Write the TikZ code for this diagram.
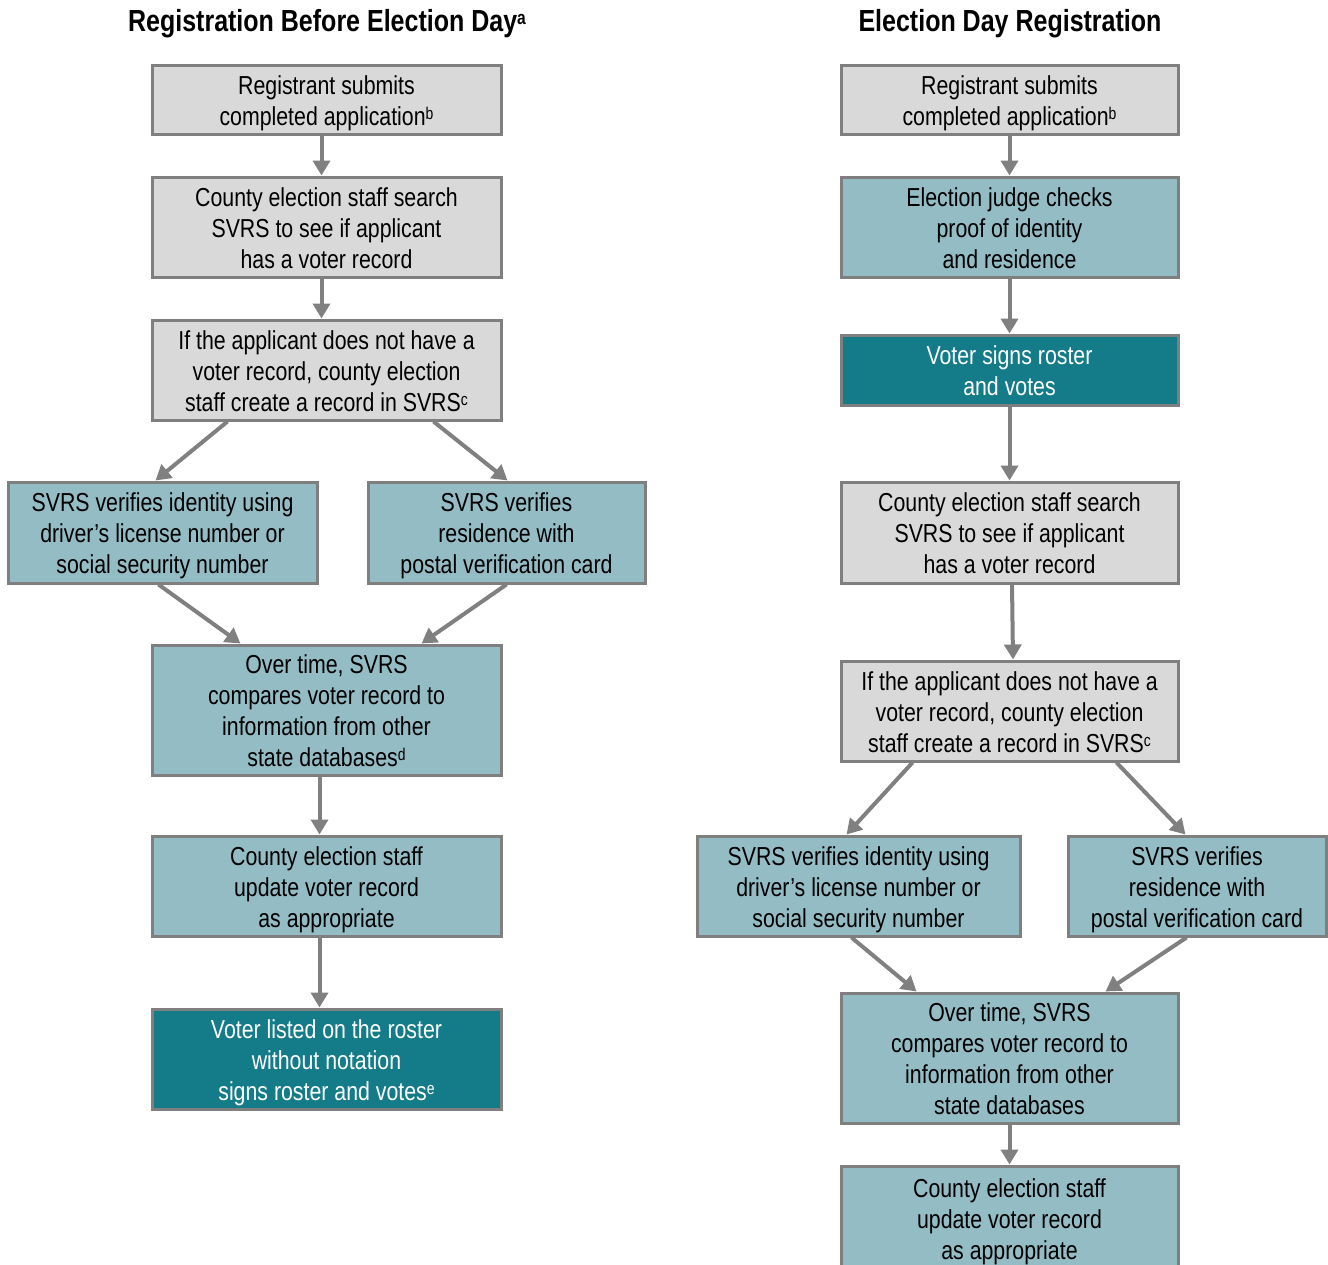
\documentclass[tikz,border=0pt]{standalone}
\usepackage{fontspec}
\setmainfont[FakeStretch=0.82]{Liberation Sans}
\usetikzlibrary{arrows.meta}
\definecolor{boxgray}{HTML}{D9D9D9}
\definecolor{bordergray}{HTML}{7F7F7F}
\definecolor{lightteal}{HTML}{93BCC4}
\definecolor{darkteal}{HTML}{147B88}
\definecolor{arrowgray}{HTML}{808080}
\newcommand{\bt}[1]{\raisebox{-4pt}[\height][\depth]{\begin{tabular}{@{}c@{}}#1\end{tabular}}}
\newcommand{\fnm}[1]{\raisebox{6pt}{\fontsize{17}{17}\selectfont #1}}
\begin{document}
\begin{tikzpicture}[x=1pt,y=-1pt,
  box/.style={draw=bordergray, line width=3pt, align=center, inner sep=0pt,
    font=\fontsize{26}{31}\selectfont},
  graybox/.style={box, fill=boxgray, text=black},
  lightbox/.style={box, fill=lightteal, text=black},
  darkbox/.style={box, fill=darkteal, text=white},
  titlenode/.style={font=\fontsize{30.5}{35}\selectfont\bfseries, inner sep=0pt},
  arr/.style={draw=arrowgray, line width=4pt, -{Triangle[length=15pt,width=17pt]}}]
\useasboundingbox (0,0) rectangle (1328,1264);
\clip (0,0) rectangle (1328,1264);
% titles
\node[titlenode] (T1) at (327,24) {Registration Before Election Day\raisebox{7pt}{\fontsize{19}{19}\selectfont a}};
\node[titlenode] (T2) at (1010,24) {Election Day Registration};
% left column
\node[graybox, minimum width=349pt, minimum height=69pt] (L1) at (326.5,99.5)
  {\bt{Registrant submits\\completed application\fnm{b}}};
\node[graybox, minimum width=349pt, minimum height=100pt] (L2) at (326.5,227)
  {\bt{County election staff search\\SVRS to see if applicant\\has a voter record}};
\node[graybox, minimum width=349pt, minimum height=100pt] (L3) at (326.5,370)
  {\bt{If the applicant does not have a\\voter record, county election\\staff create a record in SVRS\fnm{c}}};
\node[lightbox, minimum width=309pt, minimum height=101pt] (L4a) at (162.5,532.5)
  {\bt{SVRS verifies identity using\\driver’s license number or\\social security number}};
\node[lightbox, minimum width=277pt, minimum height=101pt] (L4b) at (506.5,532.5)
  {\bt{SVRS verifies\\residence with\\postal verification card}};
\node[lightbox, minimum width=349pt, minimum height=130pt] (L5) at (326.5,710)
  {\bt{Over time, SVRS\\compares voter record to\\information from other\\state databases\fnm{d}}};
\node[lightbox, minimum width=349pt, minimum height=100pt] (L6) at (326.5,886)
  {\bt{County election staff\\update voter record\\as appropriate}};
\node[darkbox, minimum width=349pt, minimum height=100pt] (L7) at (326.5,1059)
  {\bt{Voter listed on the roster\\without notation\\signs roster and votes\fnm{e}}};
% right column
\node[graybox, minimum width=337pt, minimum height=69pt] (R1) at (1009.5,99.5)
  {\bt{Registrant submits\\completed application\fnm{b}}};
\node[lightbox, minimum width=337pt, minimum height=100pt] (R2) at (1009.5,227)
  {\bt{Election judge checks\\proof of identity\\and residence}};
\node[darkbox, minimum width=337pt, minimum height=70pt] (R3) at (1009.5,370)
  {\bt{Voter signs roster\\and votes}};
\node[graybox, minimum width=337pt, minimum height=101pt] (R4) at (1009.5,532.5)
  {\bt{County election staff search\\SVRS to see if applicant\\has a voter record}};
\node[graybox, minimum width=337pt, minimum height=100pt] (R5) at (1009.5,711)
  {\bt{If the applicant does not have a\\voter record, county election\\staff create a record in SVRS\fnm{c}}};
\node[lightbox, minimum width=323pt, minimum height=100pt] (R6a) at (858.5,886)
  {\bt{SVRS verifies identity using\\driver’s license number or\\social security number}};
\node[lightbox, minimum width=258pt, minimum height=100pt] (R6b) at (1197,886)
  {\bt{SVRS verifies\\residence with\\postal verification card}};
\node[lightbox, minimum width=337pt, minimum height=130pt] (R7) at (1009.5,1058)
  {\bt{Over time, SVRS\\compares voter record to\\information from other\\state databases}};
\node[lightbox, minimum width=337pt, minimum height=104pt] (R8) at (1009.5,1218)
  {\bt{County election staff\\update voter record\\as appropriate}};
% left arrows
\draw[arr] ([xshift=171pt]L1.south west) -- ([xshift=171pt]L2.north west);
\draw[arr] ([xshift=171pt]L2.south west) -- ([xshift=171pt]L3.north west);
\draw[arr] ([xshift=77pt]L3.south west) -- ([xshift=149pt]L4a.north west);
\draw[arr] ([xshift=283pt]L3.south west) -- ([xshift=141pt]L4b.north west);
\draw[arr] ([xshift=152pt]L4a.south west) -- ([xshift=90pt]L5.north west);
\draw[arr] ([xshift=140pt]L4b.south west) -- ([xshift=271pt]L5.north west);
\draw[arr] ([xshift=169pt]L5.south west) -- ([xshift=169pt]L6.north west);
\draw[arr] ([xshift=169pt]L6.south west) -- ([xshift=169pt]L7.north west);
% right arrows
\draw[arr] (R1.south) -- (R2.north);
\draw[arr] (R2.south) -- (R3.north);
\draw[arr] (R3.south) -- (R4.north);
\draw[arr] ([xshift=2.5pt]R4.south) -- ([xshift=3.5pt]R5.north);
\draw[arr] ([xshift=73pt]R5.south west) -- ([xshift=151pt]R6a.north west);
\draw[arr] ([xshift=277pt]R5.south west) -- ([xshift=119pt]R6b.north west);
\draw[arr] ([xshift=156pt]R6a.south west) -- ([xshift=77pt]R7.north west);
\draw[arr] ([xshift=120pt]R6b.south west) -- ([xshift=266pt]R7.north west);
\draw[arr] (R7.south) -- (R8.north);
\end{tikzpicture}
\end{document}
